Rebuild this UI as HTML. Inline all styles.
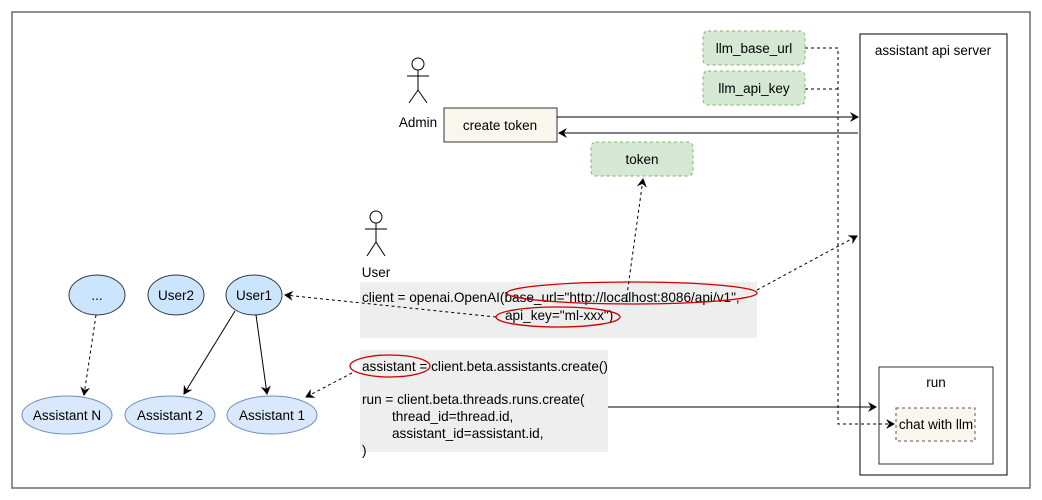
<!DOCTYPE html>
<html><head><meta charset="utf-8"><style>
html,body{margin:0;padding:0;background:#fff;}
svg{display:block;font-family:"Liberation Sans",Helvetica,Arial,sans-serif;}
</style></head><body>
<svg width="1042" height="500" viewBox="0 0 1042 500" xmlns="http://www.w3.org/2000/svg">
<defs>
<marker id="a" markerWidth="10" markerHeight="10" refX="8" refY="5" orient="auto" markerUnits="userSpaceOnUse">
<path d="M0,0 L9,5 L0,10 L3,5 Z" fill="#000"/></marker>
</defs>
<rect x="12" y="12" width="1018" height="476" fill="#fff" stroke="#6b6b6b" stroke-width="1.5"/>
<!-- server -->
<rect x="860" y="34" width="147" height="441" fill="#fff" stroke="#000"/>
<text x="933" y="55" font-size="13.5" text-anchor="middle">assistant api server</text>
<rect x="879" y="367" width="114" height="97" fill="#fff" stroke="#333"/>
<text x="936" y="387" font-size="13.5" text-anchor="middle">run</text>
<rect x="896" y="408" width="79" height="33" fill="#f9f7ed" stroke="#555" stroke-dasharray="3,3"/>
<text x="936" y="429" font-size="13.5" text-anchor="middle">chat with llm</text>
<!-- llm boxes -->
<rect x="703" y="31" width="102" height="34" rx="5" fill="#d5e8d4" stroke="#82b366" stroke-dasharray="3,3"/>
<text x="754" y="53" font-size="13.5" text-anchor="middle">llm_base_url</text>
<rect x="703" y="71" width="102" height="34" rx="5" fill="#d5e8d4" stroke="#82b366" stroke-dasharray="3,3"/>
<text x="754" y="93" font-size="13.5" text-anchor="middle">llm_api_key</text>
<path d="M805,48 H838 V424 H894" fill="none" stroke="#000" stroke-dasharray="3,3" marker-end="url(#a)"/>
<path d="M805,89 H838" fill="none" stroke="#000" stroke-dasharray="3,3"/>
<!-- admin -->
<g stroke="#000" fill="none"><circle cx="418" cy="64" r="6"/><path d="M418,70 V90 M407,76 H429 M418,90 L409,103 M418,90 L427,103"/></g>
<text x="418" y="127" font-size="13.5" text-anchor="middle">Admin</text>
<rect x="444" y="108" width="113" height="34" fill="#f9f7ed" stroke="#333"/>
<text x="500" y="130" font-size="13.5" text-anchor="middle">create token</text>
<line x1="557" y1="117" x2="858" y2="117" stroke="#000" marker-end="url(#a)"/>
<line x1="858" y1="133" x2="559" y2="133" stroke="#000" marker-end="url(#a)"/>
<rect x="591" y="142" width="102" height="34" rx="5" fill="#d5e8d4" stroke="#82b366" stroke-dasharray="3,3"/>
<text x="642" y="164" font-size="13.5" text-anchor="middle">token</text>
<!-- user -->
<g stroke="#000" fill="none"><circle cx="376" cy="217" r="6"/><path d="M376,223 V242 M365,229 H387 M376,242 L367,256 M376,242 L385,256"/></g>
<text x="376" y="277" font-size="13.5" text-anchor="middle">User</text>
<rect x="360" y="282" width="397" height="56" fill="#eeeeee"/>
<text x="362" y="302" font-size="13.6">client = openai.OpenAI(base_url="http://localhost:8086/api/v1",</text>
<text x="505" y="320" font-size="13.6">api_key="ml-xxx")</text>
<rect x="360" y="350" width="248" height="102" fill="#eeeeee"/>
<text font-size="13.6"><tspan x="362" y="371">assistant = client.beta.assistants.create()</tspan>
<tspan x="362" y="404">run = client.beta.threads.runs.create(</tspan>
<tspan x="392" y="421">thread_id=thread.id,</tspan>
<tspan x="392" y="438">assistant_id=assistant.id,</tspan>
<tspan x="362" y="455">)</tspan></text>
<ellipse cx="632" cy="293" rx="125" ry="11" fill="none" stroke="#c00" stroke-width="1.3"/>
<ellipse cx="558" cy="317" rx="62" ry="10" fill="none" stroke="#c00" stroke-width="1.3"/>
<ellipse cx="390" cy="366" rx="40" ry="11" fill="none" stroke="#c00" stroke-width="1.3"/>
<!-- dashed connectors -->
<g stroke="#000" fill="none" stroke-dasharray="3,3">
<path d="M496,317 L285,295" marker-end="url(#a)"/>
<path d="M757,290 L857,236" marker-end="url(#a)"/>
<path d="M626,302 L643,179" marker-end="url(#a)"/>
<path d="M352,373 L306,397" marker-end="url(#a)"/>
<path d="M96,315 L84,395" marker-end="url(#a)"/>
</g>
<line x1="608" y1="407" x2="876" y2="407" stroke="#000" marker-end="url(#a)"/>
<!-- ellipses -->
<g fill="#cce5ff" stroke="#36393d">
<ellipse cx="97" cy="295" rx="28" ry="20"/>
<ellipse cx="176" cy="295" rx="28" ry="20"/>
<ellipse cx="254" cy="295" rx="28" ry="20"/>
</g>
<g fill="#dae8fc" stroke="#6c8ebf">
<ellipse cx="67" cy="415" rx="45" ry="19"/>
<ellipse cx="170" cy="415" rx="45" ry="19"/>
<ellipse cx="272" cy="415" rx="45" ry="19"/>
</g>
<g font-size="13.5" text-anchor="middle">
<text x="97" y="300">...</text><text x="176" y="300">User2</text><text x="254" y="300">User1</text>
<text x="67" y="420">Assistant N</text><text x="170" y="420">Assistant 2</text><text x="272" y="420">Assistant 1</text>
</g>
<line x1="235" y1="311" x2="184" y2="394" stroke="#000" marker-end="url(#a)"/>
<line x1="256" y1="315" x2="267" y2="394" stroke="#000" marker-end="url(#a)"/>
</svg>
</body></html>
